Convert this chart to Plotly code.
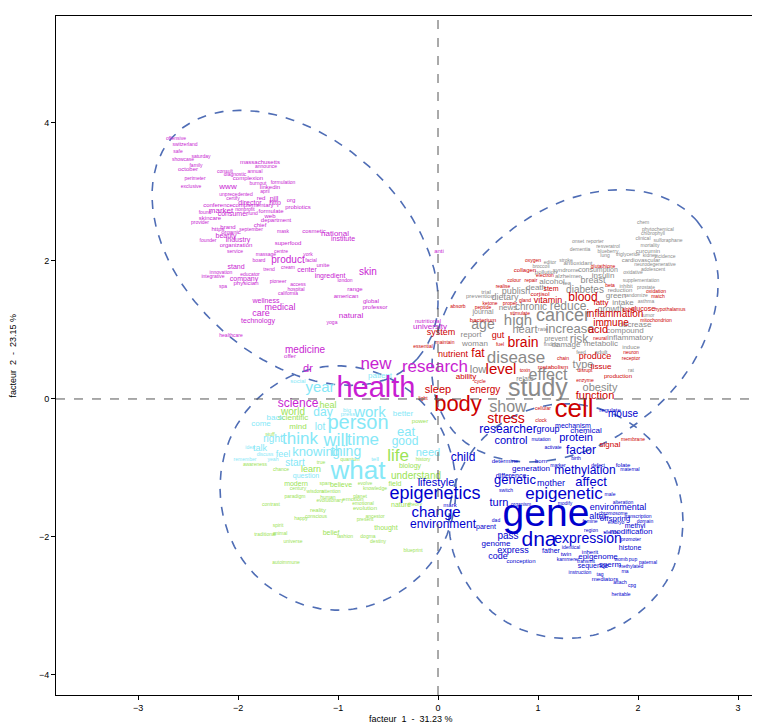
import numpy as np
import plotly.graph_objects as go

# ---------------- data (factor coordinates) ----------------
MAG_WORDS = ["offensive","switzerland","safe","saturday","showcase","family","october","consult","diagnostic",
 "massachusetts","announce","annual","perimeter","complexion","formulation","burnout","exclusive","www","linkedin",
 "april","unprecedented","certify","red","pill","org","director","http","probiotics","conference","complementary",
 "market","nonprofit","formulate","found","consumer","fund","web","skincare","department","provider","brand","chief",
 "https","organic","september","mask","beauty","cosmetic","founder","industry","superfood","organization","national",
 "institute","service","massage","centre","york","board","product","facial","stand","trend","cream","unite","center",
 "skin","innovation","integrative","educator","company","ingredient","london","physician","pioneer","access","hospital",
 "spa","california","range","american","global","professor","wellness","medical","care","natural","technology","yoga",
 "healthcare","medicine","offer","anti","nutritional","university","dr","new","research","health","science"]
MAG_X = [-2.62,-2.53,-2.60,-2.37,-2.55,-2.42,-2.50,-2.13,-2.03,-1.78,-1.72,-1.83,-2.43,-1.90,-1.55,-1.80,-2.47,-2.10,-1.68,
 -1.73,-2.02,-2.05,-1.77,-1.64,-1.47,-1.88,-1.63,-1.40,-2.20,-1.85,-2.17,-1.93,-1.67,-2.33,-2.05,-1.85,-1.68,-2.28,-1.62,
 -2.38,-2.10,-1.78,-2.20,-2.07,-1.87,-1.55,-2.12,-1.24,-2.30,-2.00,-1.50,-2.02,-1.03,-0.95,-2.03,-1.72,-1.57,-1.30,-1.79,
 -1.50,-1.27,-2.02,-1.69,-1.50,-1.15,-1.31,-0.70,-2.17,-2.25,-1.88,-1.94,-1.08,-0.93,-1.92,-1.60,-1.40,-1.42,-2.15,-1.50,
 -0.83,-0.92,-0.67,-0.63,-1.72,-1.58,-1.77,-0.87,-1.80,-1.06,-2.07,-1.33,-1.48,0.01,-0.10,-0.08,-1.30,-0.62,-0.03,-0.62,-1.40]
MAG_Y = [3.77,3.68,3.59,3.51,3.46,3.38,3.32,3.30,3.25,3.42,3.36,3.30,3.19,3.20,3.13,3.12,3.07,3.07,3.07,3.00,2.96,2.90,2.90,
 2.90,2.87,2.84,2.84,2.78,2.80,2.80,2.72,2.74,2.71,2.70,2.67,2.68,2.65,2.61,2.58,2.55,2.49,2.52,2.45,2.41,2.45,2.43,2.36,
 2.42,2.30,2.30,2.26,2.23,2.39,2.32,2.14,2.09,2.14,2.09,2.00,2.00,2.00,1.91,1.87,1.90,1.93,1.86,1.84,1.83,1.77,1.80,1.74,
 1.78,1.71,1.67,1.70,1.65,1.59,1.62,1.52,1.58,1.49,1.41,1.32,1.41,1.32,1.23,1.20,1.13,1.10,0.91,0.70,0.61,2.13,1.13,1.04,
 0.43,0.49,0.45,0.13,-0.07]
MAG_SIZE = [5,5,5,5,5,5,6,5,5,6,5,5,5,6,5,5,5,8,6,5,5,5,6,7,6,7,7,6,6,6,8,5,6,5,7,5,6,6,6,5,6,6,6,6,5,5,7,6,5,7,6,6,8,7,
 5,5,5,5,5,10,5,7,5,5,6,7,10,5,5,5,7,7,5,6,5,5,5,5,5,6,6,6,6,7,9,9,8,7,5,5,10,6,6,6,8,11,17,17,29,12]

CYAN_WORDS = ["patient","social","year","day","big","press","work","better","back","come","person","lot","right","think",
 "idea","talk","will","time","eat","good","discuss","feel","knowing","thing","tell","need","remember","yeah","start",
 "what","question"]
CYAN_X = [-0.58,-1.40,-1.18,-1.15,-0.91,-0.90,-0.68,-0.35,-1.63,-1.77,-0.80,-1.18,-1.65,-1.38,-1.88,-1.78,-1.02,-0.75,
 -0.32,-0.33,-1.73,-1.55,-1.22,-0.92,-0.63,-0.10,-1.93,-1.65,-1.43,-0.80,-1.32]
CYAN_Y = [0.33,0.26,0.16,-0.20,-0.16,-0.23,-0.20,-0.22,-0.28,-0.36,-0.36,-0.42,-0.59,-0.59,-0.71,-0.72,-0.61,-0.61,
 -0.49,-0.62,-0.81,-0.81,-0.78,-0.78,-0.88,-0.78,-0.88,-0.88,-0.93,-1.07,-1.12]
CYAN_SIZE = [8,6,15,12,6,6,15,8,8,8,20,10,10,17,5,9,18,17,13,12,5,9,13,14,6,11,5,5,10,26,7]

GREEN_WORDS = ["heal","world","power","scientific","mind","stuff","life","true","quantum","history","awareness","chance",
 "learn","biology","understand","modern","span","believe","evolve","field","century","knowledge","wisdom","attention",
 "paradigm","planet","human","emotion","evolutionary","emotional","nature","theory","contrast","reality","evolution",
 "conscious","ancestor","happy","present","spirit","thought","belief","traditional","animal","fashion","dogma",
 "universe","destiny","blueprint","autoimmune"]
GREEN_X = [-1.10,-1.45,-0.18,-1.45,-1.40,-1.68,-0.40,-1.17,-0.88,-0.15,-1.83,-1.57,-1.27,-0.28,-0.22,-1.42,-1.13,-0.97,
 -0.73,-0.43,-1.40,-0.63,-1.23,-1.07,-1.43,-0.78,-1.10,-0.85,-1.08,-0.75,-0.37,-0.23,-1.67,-1.20,-0.73,-1.22,-0.63,
 -1.37,-0.73,-1.60,-0.52,-1.07,-1.73,-1.58,-0.93,-0.70,-1.45,-0.60,-0.25,-1.52]
GREEN_Y = [-0.10,-0.19,-0.32,-0.28,-0.41,-0.52,-0.83,-0.93,-0.88,-0.88,-0.96,-1.03,-1.03,-0.97,-1.12,-1.23,-1.23,-1.25,
 -1.23,-1.23,-1.30,-1.30,-1.35,-1.35,-1.41,-1.41,-1.43,-1.46,-1.48,-1.52,-1.54,-1.54,-1.54,-1.61,-1.59,-1.70,-1.70,
 -1.74,-1.75,-1.84,-1.87,-1.94,-1.97,-1.96,-1.99,-2.00,-2.07,-2.07,-2.20,-2.38]
GREEN_SIZE = [9,10,6,8,8,5,17,5,5,5,5,5,9,7,10,7,5,7,5,7,5,5,5,5,5,5,5,6,5,5,7,5,5,6,6,5,5,5,5,5,7,7,5,5,5,5,5,5,5,5]

GREY_WORDS = ["editor","stroke","broccoli","pollution","syndrome","alzheimer","alcohol","tea","death","trial","publish",
 "prevention","dietary","news","chronic","reduce","journal","cancer","age","high","report","heart","rate","increase",
 "chem","phytochemical","chlorophyll","clinical","sulforaphane","onset","reporter","mortality","dementia","resveratrol",
 "curcumin","blueberry","lung","triglyceride","kidney","incidence","antioxidant","cardiovascular","neurodegenerative",
 "consumption","adolescent","insulin","oxidative","breast","supplementation","diabetes","inhibit","prostate","reduction",
 "green","randomize","intake","asthma","growth","tumor","decrease","compound","risk","inflammatory","damage","metabolic",
 "induce","prevent","finding","woman","feed","adult","disease","type","rat","low","effect","relate","obesity","study","show"]
GREY_X = [1.12,1.28,1.03,1.08,1.28,1.30,1.14,1.29,0.98,0.48,0.78,0.42,0.67,0.70,0.93,1.30,0.45,1.25,0.45,0.80,0.33,0.87,
 1.05,1.32,2.05,2.20,2.15,2.05,2.30,1.40,1.57,2.12,1.42,1.70,2.10,1.70,1.67,1.90,2.12,2.27,1.40,2.03,2.17,1.60,2.15,1.65,
 1.95,1.55,2.03,1.47,1.88,2.08,1.82,1.78,1.98,1.85,2.08,1.73,2.10,1.97,1.87,1.41,1.92,1.28,1.63,1.93,1.18,1.13,0.37,1.43,
 1.63,0.78,1.45,1.93,0.40,1.10,0.87,1.62,1.00,0.70]
GREY_Y = [1.97,2.01,1.91,1.84,1.86,1.78,1.70,1.68,1.61,1.55,1.55,1.48,1.46,1.32,1.33,1.33,1.25,1.20,1.06,1.13,0.93,0.99,
 1.00,1.00,2.55,2.45,2.39,2.32,2.29,2.28,2.28,2.22,2.16,2.20,2.14,2.13,2.07,2.09,2.07,2.06,1.97,2.01,1.94,1.86,1.87,1.78,
 1.83,1.72,1.71,1.57,1.62,1.61,1.57,1.49,1.49,1.39,1.41,1.30,1.20,1.07,0.99,0.86,0.88,0.78,0.80,0.74,0.86,0.78,0.80,0.67,
 0.68,0.59,0.49,0.41,0.41,0.33,0.28,0.16,0.13,-0.13]
GREY_SIZE = [5,5,5,6,6,6,8,6,8,6,9,6,9,8,10,12,7,18,14,15,8,11,6,13,5,5,5,5,5,5,5,5,5,5,6,5,5,5,5,5,6,6,5,7,5,8,5,9,5,
 10,5,5,6,8,5,8,5,9,5,8,8,12,8,8,8,6,7,5,8,5,6,17,11,5,11,16,7,11,25,16]

RED_WORDS = ["oxygen","collagen","electron","colour","repair","realise","stem","cortisol","gland","vitamin","absorb",
 "ketone","proper","peptide","stimulate","bacterium","glutathione","beta","oxidation","blood","match","fatty","alpha",
 "glucose","hypothalamus","inflammation","immune","mitochondrion","acid","neural","system","maintain","essential","gut",
 "brain","fuel","nutrient","fat","neuron","receptor","produce","tissue","disrupt","enzyme","production","level","toxin",
 "metabolism","chain","ability","cycle","sleep","light","energy","function","body","cellular","cell","stress","clock",
 "membrane","signal"]
RED_X = [0.95,0.87,1.07,0.76,0.93,0.65,1.13,1.02,0.87,1.10,0.20,0.52,0.72,0.45,0.82,0.45,1.65,1.72,2.18,1.45,2.20,1.63,
 1.90,2.05,2.32,1.77,1.73,2.18,1.60,1.62,0.03,0.07,-0.15,0.60,0.85,0.62,0.15,0.40,1.93,1.93,1.57,1.63,1.47,1.47,1.80,
 0.63,0.87,1.15,1.25,0.28,0.42,0.00,-0.15,0.47,1.57,0.20,1.05,1.36,0.68,1.03,1.95,1.72]
RED_Y = [2.00,1.86,1.78,1.71,1.72,1.62,1.59,1.52,1.42,1.43,1.33,1.38,1.38,1.32,1.23,1.14,1.91,1.64,1.55,1.46,1.48,1.39,
 1.30,1.30,1.29,1.22,1.10,1.13,0.99,0.87,0.96,0.81,0.75,0.91,0.81,0.78,0.64,0.65,0.67,0.59,0.61,0.46,0.41,0.26,0.33,
 0.41,0.41,0.46,0.59,0.32,0.25,0.12,0.01,0.13,0.04,-0.09,-0.14,-0.17,-0.30,-0.32,-0.59,-0.67]
RED_SIZE = [5,6,5,5,5,5,7,6,5,9,5,5,5,5,5,6,5,5,5,12,5,8,5,7,5,10,10,5,11,5,9,5,5,9,14,5,9,12,5,5,9,8,5,5,6,15,5,6,5,
 8,5,11,5,10,11,22,5,26,14,5,5,8]

BLUE_WORDS = ["regulate","mouse","mechanism","researcher","group","chemical","protein","control","mutation","activate",
 "factor","child","birth","determine","born","marker","defect","folate","maternal","generation","methylation","difference",
 "lifestyle","genetic","mother","affect","switch","epigenetics","epigenetic","male","mark","turn","organism","modify",
 "alteration","environmental","change","gene","alter","chromosome","offspring","transcription","dad","famine","embryo",
 "domain","environment","parent","methyl","region","silence","modification","pass","dna","expression","promoter","genome",
 "identical","histone","express","father","inherit","twin","epigenome","code","kammerer","womb","pup","conception",
 "transmit","paternal","sequence","sperm","methylated","rna","instruction","tag","mediators","attach","cpg","heritable"]
BLUE_X = [1.72,1.85,1.35,0.70,1.10,1.48,1.38,0.73,1.03,1.15,1.43,0.25,1.38,0.67,1.03,1.20,1.60,1.85,1.92,0.93,1.47,0.73,
 -0.02,0.77,1.13,1.53,0.68,-0.03,1.26,1.72,0.12,0.61,0.83,1.27,1.85,1.80,-0.02,1.08,1.60,1.75,1.77,2.00,0.58,1.52,1.78,
 2.07,0.05,0.48,1.97,1.53,1.73,1.93,0.70,1.01,1.50,1.93,0.58,1.33,1.92,0.75,1.13,1.52,1.28,1.60,0.60,1.30,1.83,1.95,
 0.83,1.48,2.10,1.55,1.72,1.93,1.87,1.42,1.62,1.67,1.82,1.94,1.83]
BLUE_Y = [-0.16,-0.23,-0.39,-0.45,-0.45,-0.46,-0.57,-0.61,-0.59,-0.70,-0.75,-0.86,-0.87,-0.91,-0.90,-0.97,-0.97,-0.96,
 -1.03,-1.01,-1.04,-1.12,-1.22,-1.19,-1.23,-1.22,-1.33,-1.38,-1.39,-1.39,-1.54,-1.51,-1.54,-1.52,-1.51,-1.58,-1.65,
 -1.70,-1.70,-1.67,-1.74,-1.71,-1.77,-1.78,-1.80,-1.78,-1.83,-1.86,-1.84,-1.91,-1.94,-1.93,-1.99,-2.06,-2.04,-2.04,
 -2.10,-2.16,-2.17,-2.20,-2.20,-2.23,-2.26,-2.29,-2.29,-2.33,-2.33,-2.33,-2.35,-2.36,-2.38,-2.43,-2.41,-2.43,-2.51,
 -2.52,-2.55,-2.62,-2.67,-2.70,-2.84]
BLUE_SIZE = [6,10,7,12,9,8,11,11,5,5,12,12,5,6,6,5,5,6,5,8,12,7,11,13,9,13,5,18,17,5,6,11,5,5,5,9,15,39,9,5,8,5,5,5,5,
 5,12,7,7,5,5,8,10,21,14,5,8,5,7,9,7,6,6,8,9,5,5,5,6,5,5,7,8,5,5,5,5,6,5,5,5]

GROUP_COLORS = {"mag": "#C81ED2", "cyan": "#86E8F7", "green": "#9BE356", "grey": "#8A8A8A", "red": "#CD0000", "blue": "#0000CD"}

# ellipses: center, conjugate semi-axis vectors (factor units)
ELL_CENTERS = [(-1.43, 2.19), (1.37, 1.06), (-1.00, -1.29), (1.28, -1.77)]
ELL_U = [(1.226, -1.603), (1.22, 1.52), (1.18, 0.0), (1.17, 0.0)]
ELL_V = [(0.737, 1.184), (0.75, -1.26), (0.0, 1.77), (0.0, 1.70)]

X_TICKS = [-3, -2, -1, 0, 1, 2, 3]
Y_TICKS = [-4, -2, 0, 2, 4]
X_RANGE = [-3.82, 3.27]
Y_RANGE = [-4.29, 5.55]

FONT = "Liberation Sans, Arial, Helvetica, sans-serif"

fig = go.Figure()

# reference lines
fig.add_shape(type="line", x0=0, x1=0, y0=Y_RANGE[0], y1=Y_RANGE[1], line=dict(color="#555555", width=1, dash="dash"))
fig.add_shape(type="line", x0=X_RANGE[0], x1=X_RANGE[1], y0=0, y1=0, line=dict(color="#555555", width=1, dash="dash"))

t = np.linspace(0, 2 * np.pi, 241)
for c, u, v in zip(ELL_CENTERS, ELL_U, ELL_V):
    ex = c[0] + u[0] * np.cos(t) + v[0] * np.sin(t)
    ey = c[1] + u[1] * np.cos(t) + v[1] * np.sin(t)
    fig.add_trace(go.Scatter(x=ex, y=ey, mode="lines", line=dict(color="#4F6DB5", width=1.6, dash="dash"),
                             hoverinfo="skip", showlegend=False))

groups = [
    (GREEN_WORDS, GREEN_X, GREEN_Y, GREEN_SIZE, GROUP_COLORS["green"]),
    (CYAN_WORDS, CYAN_X, CYAN_Y, CYAN_SIZE, GROUP_COLORS["cyan"]),
    (GREY_WORDS, GREY_X, GREY_Y, GREY_SIZE, GROUP_COLORS["grey"]),
    (RED_WORDS, RED_X, RED_Y, RED_SIZE, GROUP_COLORS["red"]),
    (BLUE_WORDS, BLUE_X, BLUE_Y, BLUE_SIZE, GROUP_COLORS["blue"]),
    (MAG_WORDS, MAG_X, MAG_Y, MAG_SIZE, GROUP_COLORS["mag"]),
]
for w, xs, ys, ss, col in groups:
    fig.add_trace(go.Scatter(x=xs, y=ys, text=w, mode="text", textposition="middle center",
                             textfont=dict(family=FONT, size=ss, color=col),
                             hoverinfo="text", showlegend=False, cliponaxis=False))

axis_common = dict(showgrid=False, zeroline=False, showline=True, linecolor="black", linewidth=1, mirror=True,
                   ticks="outside", ticklen=4, tickcolor="black", tickfont=dict(family=FONT, size=9, color="black"))
fig.update_xaxes(range=X_RANGE, tickvals=X_TICKS, **axis_common)
fig.update_yaxes(range=Y_RANGE, tickvals=Y_TICKS, **axis_common)

fig.update_layout(
    width=760, height=727, margin=dict(l=48, r=3, t=8, b=40),
    plot_bgcolor="white", paper_bgcolor="white", showlegend=False,
    annotations=[
        dict(text="facteur  1  -  31.23 %", x=0.5, y=-0.045, xref="paper", yref="paper", showarrow=False,
             xanchor="center", yanchor="bottom", font=dict(family=FONT, size=9, color="black")),
        dict(text="facteur  2  -  23.15 %", x=-0.062, y=0.5, xref="paper", yref="paper", showarrow=False,
             textangle=-90, xanchor="center", yanchor="middle", font=dict(family=FONT, size=9, color="black")),
    ],
)

fig.write_html("out.html")
